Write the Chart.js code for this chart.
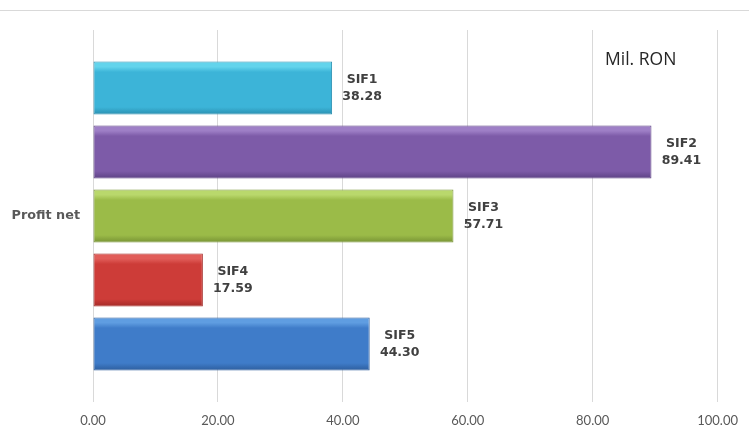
<!DOCTYPE html>
<html>
<head>
<meta charset="utf-8">
<script src="https://cdn.jsdelivr.net/npm/chart.js@4"></script>
<style>
  html, body { margin: 0; padding: 0; background: #fff; }
  #wrap { position: relative; width: 749px; height: 428px; }
  #topline { position: absolute; left: 0; top: 10px; width: 749px; height: 0; border-top: 1px solid #d9d9d9; }
  canvas { position: absolute; left: 0; top: 0; }
</style>
</head>
<body>
<div id="wrap">
  <div id="topline"></div>
  <canvas id="chart" width="749" height="428"></canvas>
</div>
<script>
// date grafic
var categories = ['Profit net'];
var seriesNames = ['SIF1', 'SIF2', 'SIF3', 'SIF4', 'SIF5'];
var seriesValues = [38.28, 89.41, 57.71, 17.59, 44.30];
var xTicks = [0, 20, 40, 60, 80, 100];
var unitLabel = 'Mil. RON';

// culori: sus, mijloc, jos
var barColors = [
	['#63d4ec', '#3cb4d8', '#2a8fb0'],
	['#9e7fc6', '#7d5ba8', '#5d4284'],
	['#b9d86c', '#9bbb48', '#779334'],
	['#e15d59', '#cd3c38', '#a32a27'],
	['#5f9de1', '#3f7cc9', '#2d5d9d']
];

var datasets = [];
for (let i = 0; i < seriesNames.length; i++) {
	datasets.push({
		label: seriesNames[i],
		data: [seriesValues[i]],
		backgroundColor: barColors[i][1],
		borderColor: barColors[i][2],
		borderWidth: 1,
		borderSkipped: false,
		barPercentage: 0.83,
		categoryPercentage: 0.86
	});
}

// gradient pe fiecare bara
const bevelPlugin = {
	id: 'bevel',
	beforeDatasetsDraw(chart) {
		const ctx = chart.ctx;
		chart.data.datasets.forEach(function (ds, i) {
			const meta = chart.getDatasetMeta(i);
			meta.data.forEach(function (bar) {
				const top = bar.y - bar.height / 2;
				const bottom = bar.y + bar.height / 2;
				const g = ctx.createLinearGradient(0, top, 0, bottom);
				g.addColorStop(0, barColors[i][0]);
				g.addColorStop(0.1, barColors[i][0]);
				g.addColorStop(0.2, barColors[i][1]);
				g.addColorStop(0.86, barColors[i][1]);
				g.addColorStop(1, barColors[i][2]);
				bar.options.backgroundColor = g;
			});
		});
	}
};

// etichete SIFx / valoare
const labelPlugin = {
	id: 'barLabels',
	afterDatasetsDraw(chart) {
		const ctx = chart.ctx;
		ctx.save();
		ctx.font = 'bold 12.5px "DejaVu Sans", sans-serif';
		ctx.fillStyle = '#404040';
		ctx.textAlign = 'center';
		ctx.textBaseline = 'middle';
		chart.data.datasets.forEach(function (ds, i) {
			const meta = chart.getDatasetMeta(i);
			meta.data.forEach(function (bar, j) {
				const cx = bar.x + 30;
				ctx.fillText(ds.label, cx, bar.y - 8);
				ctx.fillText(ds.data[j].toFixed(2), cx, bar.y + 9);
			});
		});
		// unitate
		ctx.font = '17.5px "Open Sans", sans-serif';
		ctx.fillStyle = '#262626';
		ctx.textAlign = 'left';
		ctx.fillText(unitLabel, 605, 60);
		ctx.restore();
	}
};

new Chart(document.getElementById('chart'), {
	type: 'bar',
	data: {
		labels: categories,
		datasets: datasets
	},
	options: {
		indexAxis: 'y',
		responsive: false,
		animation: false,
		layout: { padding: { top: 30, right: 31, left: 0, bottom: 0 } },
		plugins: {
			legend: { display: false },
			tooltip: { enabled: false }
		},
		scales: {
			x: {
				min: 0,
				max: 100,
				afterBuildTicks: function (scale) {
					scale.ticks = xTicks.map(function (v) { return { value: v }; });
				},
				afterFit: function (scale) { scale.height = 26; },
				grid: { color: '#d9d9d9', lineWidth: 1, drawTicks: false },
				border: { display: false },
				ticks: {
					padding: 11,
					color: '#595959',
					font: { family: 'Lato, "Open Sans", sans-serif', size: 13 },
					callback: function (v) { return Number(v).toFixed(2); }
				}
			},
			y: {
				afterFit: function (scale) { scale.width = 93; },
				grid: { display: false, drawTicks: false },
				border: { display: false },
				ticks: {
					padding: 13,
					color: '#595959',
					font: { family: '"DejaVu Sans", sans-serif', size: 12.8, weight: 'bold' }
				}
			}
		}
	},
	plugins: [bevelPlugin, labelPlugin]
});
</script>
</body>
</html>
